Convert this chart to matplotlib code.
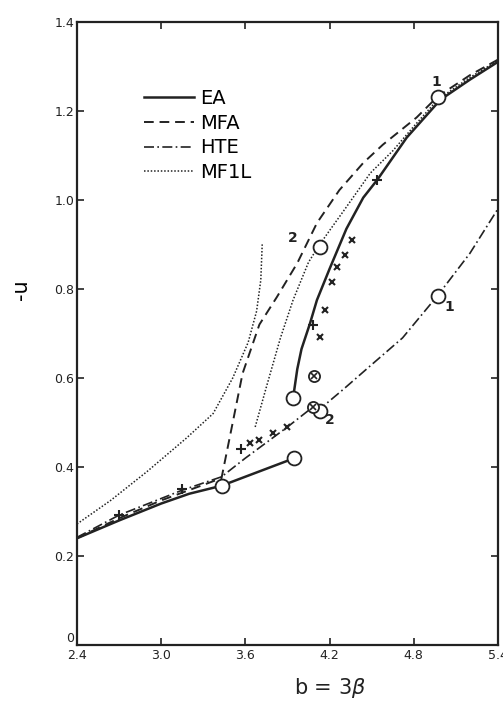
import numpy as np
import matplotlib
matplotlib.use("Agg")
import matplotlib.pyplot as plt
import matplotlib.transforms as mtransforms

# EA (solid), two branches
ea_low_b = [2.40, 2.70, 3.00, 3.20, 3.43, 3.95]
ea_low_u = [0.240, 0.280, 0.318, 0.340, 0.358, 0.420]
ea_up_b = [3.94, 3.97, 4.00, 4.06, 4.11, 4.20, 4.32, 4.44, 4.54, 4.75, 4.99, 5.20, 5.40]
ea_up_u = [0.555, 0.620, 0.665, 0.722, 0.775, 0.845, 0.935, 1.005, 1.045, 1.140, 1.225, 1.270, 1.310]

# MFA (dashed)
mfa_b = [2.40, 2.70, 3.00, 3.43, 3.51, 3.58, 3.70, 3.825, 3.97, 4.11, 4.27, 4.44, 4.58, 4.82, 4.97, 5.20, 5.40]
mfa_u = [0.240, 0.285, 0.325, 0.375, 0.500, 0.610, 0.720, 0.782, 0.858, 0.948, 1.022, 1.083, 1.124, 1.185, 1.232, 1.280, 1.315]

# HTE (dash-dot)
hte_b = [2.40, 2.70, 3.15, 3.43, 3.60, 3.75, 3.90, 4.07, 4.13, 4.30, 4.50, 4.72, 4.97, 5.20, 5.40]
hte_u = [0.242, 0.292, 0.348, 0.378, 0.420, 0.455, 0.490, 0.532, 0.530, 0.575, 0.630, 0.690, 0.785, 0.880, 0.980]

# MF1L (dotted), two curves
mf1_b = [2.40, 2.64, 2.90, 3.18, 3.37, 3.51, 3.62, 3.68, 3.71, 3.72]
mf1_u = [0.272, 0.325, 0.390, 0.465, 0.520, 0.600, 0.680, 0.750, 0.820, 0.900]
mf2_b = [3.67, 3.75, 3.85, 3.94, 4.05, 4.13, 4.22, 4.32, 4.49, 4.65, 4.80, 4.97, 5.20, 5.40]
mf2_u = [0.490, 0.580, 0.690, 0.775, 0.860, 0.900, 0.940, 0.984, 1.060, 1.110, 1.165, 1.225, 1.275, 1.313]

# open circles and point symbols
circ_b = [3.43, 3.95, 3.94, 4.13, 4.97, 4.97, 4.13]
circ_u = [0.358, 0.420, 0.555, 0.894, 1.232, 0.785, 0.525]
cross_b = [3.63, 3.70, 3.80, 3.90, 4.13, 4.17, 4.22, 4.25, 4.31, 4.36]
cross_u = [0.454, 0.460, 0.476, 0.490, 0.692, 0.753, 0.816, 0.850, 0.876, 0.910]
plus_b = [2.70, 3.15, 3.57, 4.08, 4.54]
plus_u = [0.292, 0.350, 0.440, 0.720, 1.045]
otimes_b = [4.09, 4.08]
otimes_u = [0.605, 0.535]
labels = [("1", 4.96, 1.265), ("2", 3.94, 0.915), ("1", 5.05, 0.760), ("2", 4.20, 0.505)]

fig = plt.figure(figsize=(5.03, 7.02), dpi=100)
ax = fig.add_axes([0.153, 0.081, 0.837, 0.888])

k = "#222222"
ax.plot(ea_low_b, ea_low_u, color=k, lw=1.8, label="EA")
ax.plot(ea_up_b, ea_up_u, color=k, lw=1.8)
ax.plot(mfa_b, mfa_u, color=k, lw=1.4, ls=(0, (5, 3)), label="MFA")
ax.plot(hte_b, hte_u, color=k, lw=1.2, ls=(0, (6, 2, 1, 2)), label="HTE")
ax.plot(mf1_b, mf1_u, color=k, lw=1.1, ls=(0, (1, 1.2)), label="MF1L")
ax.plot(mf2_b, mf2_u, color=k, lw=1.1, ls=(0, (1, 1.2)))

ax.plot(circ_b, circ_u, "o", ms=10, mfc="white", mec=k, mew=1.3, ls="none", zorder=5)
ax.plot(cross_b, cross_u, "x", ms=5, mec=k, mew=1.5, ls="none")
ax.plot(plus_b, plus_u, "+", ms=7, mec=k, mew=1.5, ls="none")
ax.plot(otimes_b, otimes_u, "o", ms=8, mfc="white", mec=k, mew=1.3, ls="none", zorder=6)
ax.plot(otimes_b, otimes_u, "x", ms=4, mec=k, mew=1.2, ls="none", zorder=7)
for txt, x, y in labels:
    ax.text(x, y, txt, fontsize=10, fontweight="bold", ha="center", va="center", color=k)

ax.set_xlim(2.4, 5.4)
ax.set_ylim(0, 1.4)
ax.set_xticks([2.4, 3.0, 3.6, 4.2, 4.8, 5.4])
ax.set_xticklabels(["2.4", "3.0", "3.6", "4.2", "4.8", "5.4"])
ax.set_yticks([0, 0.2, 0.4, 0.6, 0.8, 1.0, 1.2, 1.4])
ax.set_yticklabels(["0", "0.2", "0.4", "0.6", "0.8", "1.0", "1.2", "1.4"])
ax.tick_params(direction="in", top=True, right=True, length=5, width=1.2,
               labelsize=9, pad=3, colors=k)
ax.tick_params(axis="y", pad=2)
for s in ax.spines.values():
    s.set_linewidth(1.6)
    s.set_color(k)

# the "0" sits a little above the corner, as in the original
zero = ax.get_yticklabels()[0]
zero.set_transform(zero.get_transform() + mtransforms.ScaledTranslation(0, 6 / 72, fig.dpi_scale_trans))

ax.set_ylabel("-u", fontsize=15)
ax.yaxis.set_label_coords(-0.11, 0.57)
fig.text(330 / 503, 1 - 688 / 702, r"b = 3$\beta$", fontsize=15, ha="center", va="center", color=k)

leg = ax.legend(loc="upper left", bbox_to_anchor=(0.14, 0.905), frameon=False,
                fontsize=14, handlelength=2.6, handletextpad=0.3, labelspacing=0.3,
                borderaxespad=0)

fig.savefig("out.png", dpi=100)
